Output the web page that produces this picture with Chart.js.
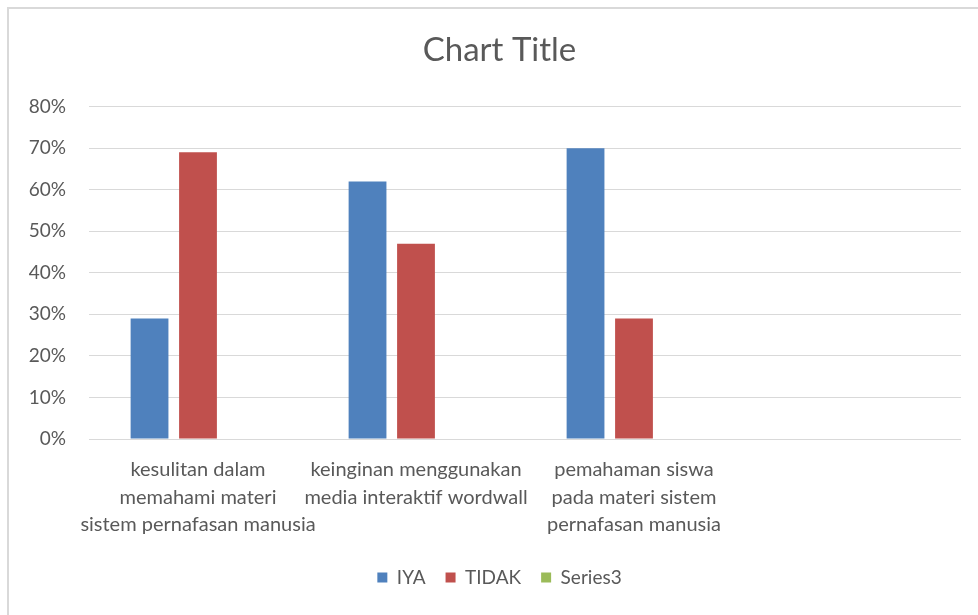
<!DOCTYPE html>
<html>
<head>
<meta charset="utf-8">
<script src="https://cdn.jsdelivr.net/npm/chart.js@4/dist/chart.umd.min.js"></script>
<style>
  html, body { margin: 0; padding: 0; background: #fff; }
  #wrap { position: relative; width: 978px; height: 615px; overflow: hidden; }
  #frame { position: absolute; left: 7px; top: 7px; width: 1000px; height: 700px;
           border-left: 2px solid #d9d9d9; border-top: 2px solid #d9d9d9; box-sizing: border-box; }
  canvas { position: absolute; left: 0; top: 0; }
</style>
</head>
<body>
<div id="wrap">
  <div id="frame"></div>
  <canvas id="c" width="978" height="615"></canvas>
</div>
<script>
const categories = [
  ["kesulitan dalam", "memahami materi", "sistem pernafasan manusia"],
  ["keinginan menggunakan", "media interaktif wordwall"],
  ["pemahaman siswa", "pada materi sistem", "pernafasan manusia"],
  ""
];
const iya = [29, 62, 70, null];
const tidak = [69, 47, 29, null];
const series3 = [null, null, null, null];
const yTicks = [0, 10, 20, 30, 40, 50, 60, 70, 80];

const FONT = "Lato, 'Open Sans', sans-serif";
const GREY = "#595959";

const shiftBoxes = {
  id: 'shiftBoxes',
  afterLayout(chart) {
    const d = 19;
    for (const box of [chart.legend, chart.titleBlock]) {
      if (box) { box.left += d; box.right += d; }
    }
  }
};

new Chart(document.getElementById('c'), {
  type: 'bar',
  data: {
    labels: categories,
    datasets: [
      { label: 'IYA', data: iya, backgroundColor: '#4F81BD', borderWidth: 0 },
      { label: 'TIDAK', data: tidak, backgroundColor: '#C0504D', borderWidth: 0 },
      { label: 'Series3', data: series3, backgroundColor: '#9BBB59', borderWidth: 0 }
    ]
  },
  plugins: [shiftBoxes],
  options: {
    responsive: false,
    animation: false,
    devicePixelRatio: 1,
    layout: { padding: { left: 0, right: 17, top: 0, bottom: 18 } },
    datasets: { bar: { categoryPercentage: 0.667, barPercentage: 0.78 } },
    plugins: {
      title: {
        display: true, text: 'Chart Title', color: GREY,
        font: { family: FONT, size: 33, weight: 'normal' },
        padding: { top: 31, bottom: 36 }
      },
      legend: {
        display: true, position: 'bottom',
        labels: {
          color: GREY, font: { family: FONT, size: 19 },
          boxWidth: 10, boxHeight: 10, padding: 20, useBorderRadius: false
        }
      },
      tooltip: { enabled: false }
    },
    scales: {
      x: {
        grid: { display: false },
        border: { display: false },
        afterFit: (s) => { s.height = 109; },
        ticks: {
          color: GREY, font: { family: FONT, size: 20, lineHeight: 1.38 },
          maxRotation: 0, minRotation: 0, autoSkip: false, padding: 9
        }
      },
      y: {
        min: 0, max: 80,
        afterBuildTicks: (s) => { s.ticks = yTicks.map(v => ({ value: v })); },
        afterFit: (s) => { s.width = 89; },
        grid: { color: '#d9d9d9', lineWidth: 1, drawTicks: false },
        border: { display: false },
        ticks: {
          color: GREY, font: { family: FONT, size: 19 }, padding: 23,
          callback: (v) => v + '%'
        }
      }
    }
  }
});
</script>
</body>
</html>
